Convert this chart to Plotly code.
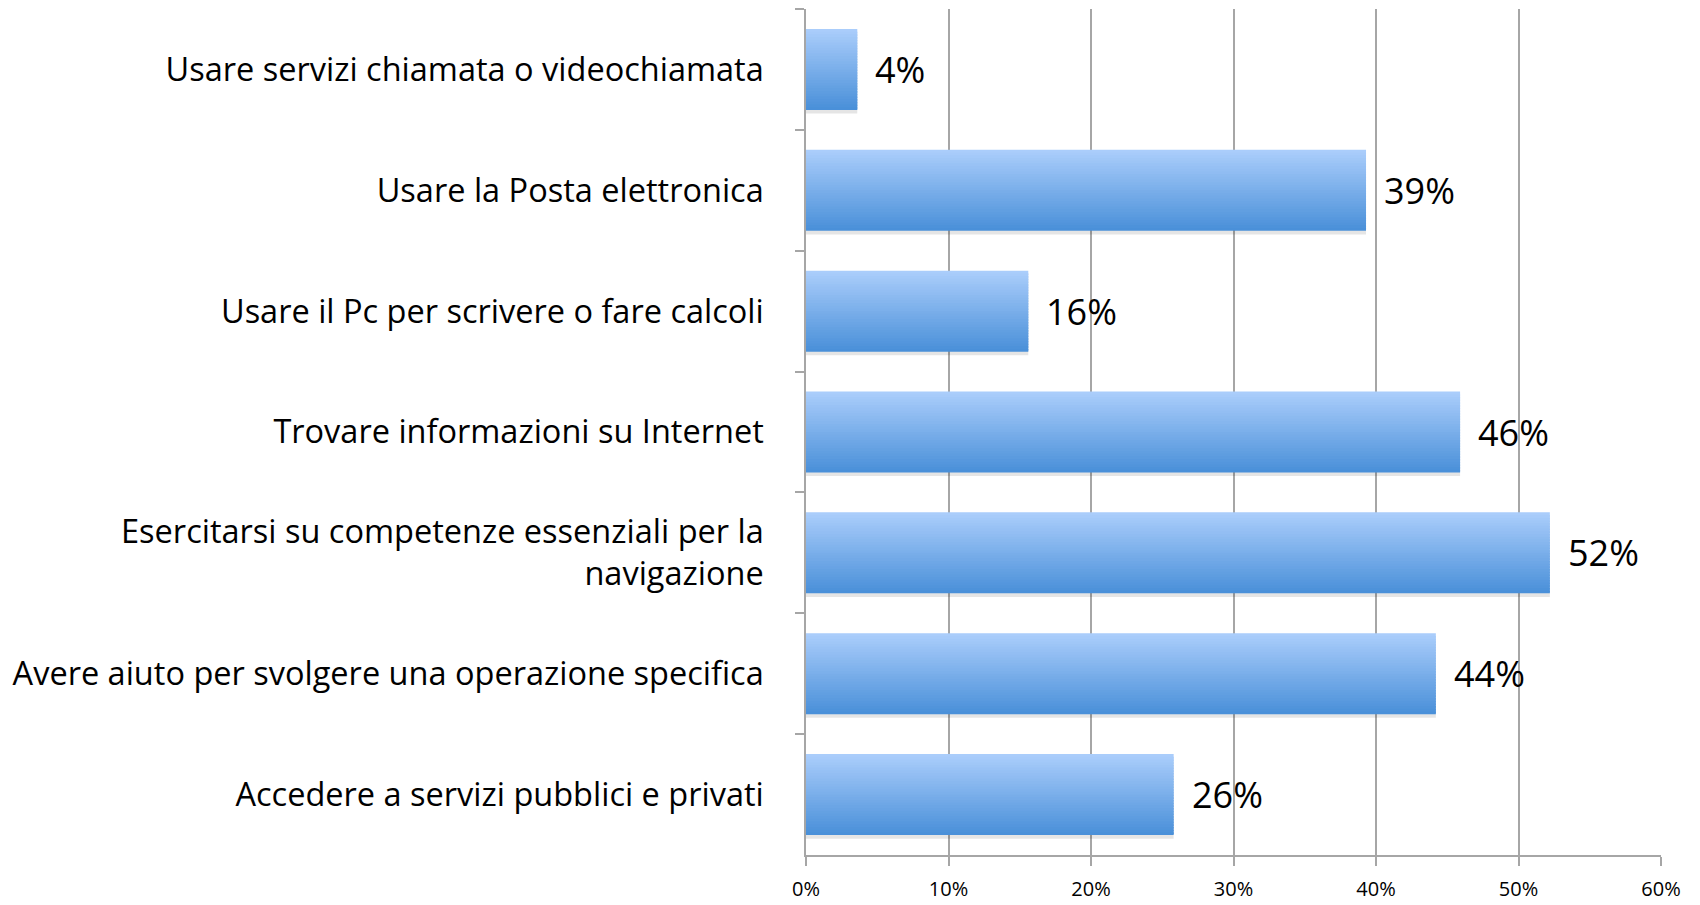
import plotly.graph_objects as go

# categorie dall'alto verso il basso
categorie = [
    "Usare servizi chiamata o videochiamata",
    "Usare la Posta elettronica",
    "Usare il Pc per scrivere o fare calcoli",
    "Trovare informazioni su Internet",
    "Esercitarsi su competenze essenziali per la<br>navigazione",
    "Avere aiuto per svolgere una operazione specifica",
    "Accedere a servizi pubblici e privati",
]
valori = [0.036, 0.393, 0.156, 0.459, 0.522, 0.442, 0.258]
etichette = ["4%", "39%", "16%", "46%", "52%", "44%", "26%"]

FONT = "'Open Sans', Lato, sans-serif"
top_col = (170, 205, 251)
bot_col = (74, 144, 217)

fig = go.Figure()

# ombra leggera sotto le barre
fig.add_trace(go.Bar(
    y=categorie, x=valori, orientation="h",
    offset=-0.335 + 0.03, width=0.67,
    marker=dict(color="rgba(0,0,0,0.10)", line=dict(width=0)),
    hoverinfo="skip", showlegend=False,
))

# barre con sfumatura verticale (fette sovrapposte)
n = 30
bar_w = 0.67
h = bar_w / n
for i in range(n):
    t = i / (n - 1)
    c = tuple(round(top_col[k] + (bot_col[k] - top_col[k]) * t) for k in range(3))
    w = h * 1.6 if i < n - 1 else h
    fig.add_trace(go.Bar(
        y=categorie, x=valori, orientation="h",
        offset=-bar_w / 2 + i * h, width=w,
        marker=dict(color="rgb(%d,%d,%d)" % c, line=dict(width=0)),
        hoverinfo="skip", showlegend=False,
    ))

# etichette dei valori
for cat, v, lab in zip(categorie, valori, etichette):
    fig.add_annotation(
        x=v, y=cat, text=lab, showarrow=False,
        xanchor="left", xshift=16,
        font=dict(family=FONT, size=36, color="black"),
    )

# la pagina ha un margine di 8px attorno al grafico
fig.update_layout(
    width=1684, height=897,
    barmode="overlay",
    plot_bgcolor="white", paper_bgcolor="white",
    margin=dict(l=798, r=31, t=1, b=50),
    font=dict(family=FONT, color="black"),
)

fig.update_xaxes(
    range=[0, 0.6], dtick=0.1, tickformat=".0%",
    showgrid=True, gridcolor="#a6a6a6", gridwidth=1.5,
    showline=True, linecolor="#a6a6a6", linewidth=1.5,
    ticks="outside", ticklen=9, tickcolor="#a6a6a6", tickwidth=1.5,
    ticklabelstandoff=6,
    tickfont=dict(family=FONT, size=20),
    zeroline=False, automargin=False,
)
fig.update_yaxes(
    autorange="reversed",
    showline=True, linecolor="#a6a6a6", linewidth=1.5,
    ticks="outside", ticklen=9, tickcolor="#a6a6a6", tickwidth=1.5,
    tickson="boundaries",
    ticklabelstandoff=34,
    tickfont=dict(family=FONT, size=32.5),
    showgrid=False, automargin=False,
)

fig.write_html("out.html")
